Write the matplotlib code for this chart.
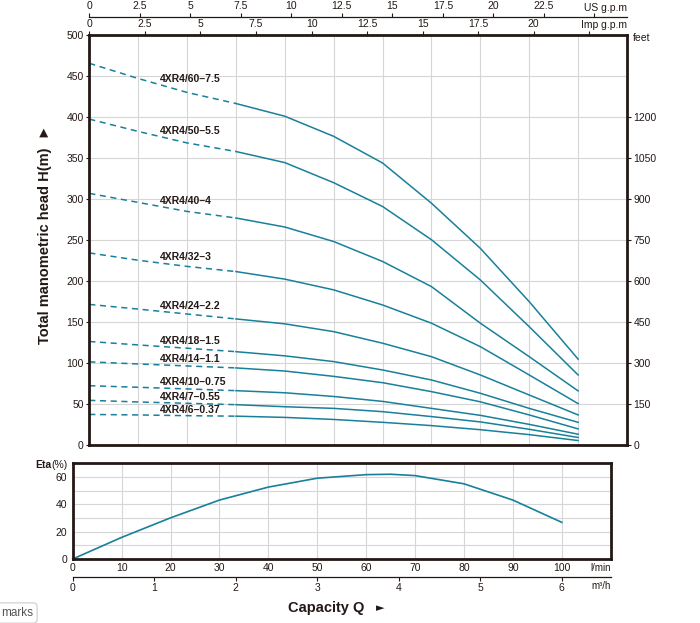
import numpy as np
import matplotlib
matplotlib.use('Agg')
import matplotlib.pyplot as plt

# data
flow = [0, 10, 20, 30, 40, 50, 60, 70, 80, 90, 100]  # l/min

models = ['4XR4/60–7.5', '4XR4/50–5.5', '4XR4/40–4', '4XR4/32–3', '4XR4/24–2.2',
          '4XR4/18–1.5', '4XR4/14–1.1', '4XR4/10–0.75', '4XR4/7–0.55', '4XR4/6–0.37']

heads = [
    [465.5, 447, 430, 416.5, 401, 376.5, 344, 295, 240, 175, 105],
    [397.5, 382.5, 368.5, 358, 344.5, 320, 291, 250.5, 201.5, 144.5, 85.7],
    [307, 296, 285, 277, 266, 248.3, 224, 193.4, 148.8, 108, 66.3],
    [234.4, 225.5, 218, 211.7, 202.5, 189.4, 171, 148.8, 120.2, 85.7, 50.8],
    [171.7, 166, 160, 154, 148, 138.5, 124.4, 108, 85.7, 61.3, 37],
    [126.5, 122.3, 118.3, 114.1, 109, 102, 91.8, 79.6, 63.4, 45, 28],
    [101.7, 99.1, 96.7, 94.3, 90.5, 84, 76.3, 65.4, 53, 37, 20],
    [72.6, 70.7, 68.7, 66.6, 64, 59.5, 53.5, 45, 36.5, 25.5, 13.5],
    [54.8, 52.8, 51.2, 49.5, 47, 45, 41, 35, 28.5, 19.5, 9.5],
    [37.6, 37, 36.1, 35.5, 34, 31.5, 28, 24, 19, 13, 5.8],
]

eta_flow = [0, 10, 20, 30, 40, 50, 60, 65, 70, 80, 90, 100]
eta = [0, 15.8, 30.1, 43.1, 52.6, 59.1, 61.7, 62.0, 61.0, 55.0, 43.1, 26.8]

us_ticks = [0, 2.5, 5, 7.5, 10, 12.5, 15, 17.5, 20, 22.5, 25]
imp_ticks = [0, 2.5, 5, 7.5, 10, 12.5, 15, 17.5, 20, 22.5]
feet_ticks = [0, 150, 300, 450, 600, 750, 900, 1050, 1200]
m3h_ticks = [0, 1, 2, 3, 4, 5, 6]

# scale factors as drawn on the chart
US_LPM = 4.133
IMP_LPM = 4.546
FT_PER_M = 3.0

TEAL = '#18809a'
DARK = '#231815'
GRID = '#d6d6d6'
FONT = ['Liberation Sans Narrow', 'Liberation Sans', 'DejaVu Sans']
plt.rcParams['font.family'] = FONT
plt.rcParams['text.color'] = DARK
plt.rcParams['xtick.color'] = DARK
plt.rcParams['ytick.color'] = DARK

fig = plt.figure(figsize=(7, 6.23), dpi=100)

# --- head curves ---
ax = fig.add_axes([89.3 / 700, 1 - 445.3 / 623, 537.7 / 700, 410.3 / 623])
ax.set_xlim(0, 110)
ax.set_ylim(0, 500)
ax.set_xticks(np.arange(0, 111, 10))
ax.set_yticks(np.arange(0, 501, 50))
ax.grid(True, color=GRID, linewidth=0.8)
ax.set_axisbelow(True)
ax.tick_params(axis='x', length=0, labelbottom=False)
ax.tick_params(axis='y', length=2, pad=2, labelsize=7.5, width=0.8)
for s in ax.spines.values():
    s.set_linewidth(2)
    s.set_color(DARK)

q = np.array(flow)
for name, h in zip(models, heads):
    h = np.array(h)
    # dashed at low flow, solid from 30 l/min on
    ax.plot(q[q <= 30], h[q <= 30], color=TEAL, lw=1.1, ls=(0, (4, 3)))
    ax.plot(q[q >= 30], h[q >= 30], color=TEAL, lw=1.1)
    ax.annotate(name, xy=(14.5, np.interp(14.5, q, h)), xytext=(0, 0.5),
                textcoords='offset points', ha='left', va='bottom',
                fontsize=7.5, fontweight='bold', family=['Liberation Sans', 'DejaVu Sans'])

# top axes: Imp g.p.m on the frame, US g.p.m a bit above
imp = ax.secondary_xaxis('top', functions=(lambda x: x / IMP_LPM, lambda g: g * IMP_LPM))
imp.set_xticks(imp_ticks)
imp.set_xticklabels([f'{t:g}' for t in imp_ticks[:-1]] + [''])
imp.tick_params(length=3, width=0.8, pad=1.5, labelsize=7.5)
imp.spines['top'].set_visible(False)
ax.annotate('Imp g.p.m', xy=(1.0, 1.0), xycoords='axes fraction', xytext=(0, 3.3),
            textcoords='offset points', ha='right', va='bottom', fontsize=7.5)

us = ax.secondary_xaxis(1.043, functions=(lambda x: x / US_LPM, lambda g: g * US_LPM))
us.set_xticks(us_ticks)
us.set_xticklabels([f'{t:g}' for t in us_ticks[:-1]] + [''])
us.tick_params(length=3, width=0.8, pad=1.5, labelsize=7.5)
us.spines['top'].set_linewidth(0.9)
us.spines['top'].set_color(DARK)
ax.annotate('US g.p.m', xy=(1.0, 1.043), xycoords='axes fraction', xytext=(0, 3.3),
            textcoords='offset points', ha='right', va='bottom', fontsize=7.5)

# feet on the right
ft = ax.secondary_yaxis('right', functions=(lambda m: m * FT_PER_M, lambda f: f / FT_PER_M))
ft.set_yticks(feet_ticks)
ft.tick_params(length=3, width=0.8, pad=1.5, labelsize=7.5)
ft.spines['right'].set_visible(False)
fig.text(633 / 700, 1 - 38 / 623, 'feet', fontsize=7.5, ha='left', va='center')

fig.text(44.7 / 700, 1 - 234 / 623, 'Total manometric head H(m)  ►', rotation=90,
         ha='center', va='center', fontsize=10.5, fontweight='bold',
         family=['Liberation Sans', 'DejaVu Sans'])

# --- efficiency ---
low = fig.add_axes([72.7 / 700, 1 - 559 / 623, 538 / 700, 95.7 / 623])
low.set_xlim(0, 110)
low.set_ylim(0, 70)
low.set_xticks(np.arange(0, 111, 10))
low.set_xticklabels([str(v) for v in range(0, 101, 10)] + [''])
low.set_yticks(np.arange(0, 71, 10))
low.set_yticklabels(['0', '', '20', '', '40', '', '60', ''])
low.grid(True, color=GRID, linewidth=0.8)
low.set_axisbelow(True)
low.tick_params(length=0, labelsize=7.5)
low.tick_params(axis='x', pad=3)
low.tick_params(axis='y', pad=4)
for s in low.spines.values():
    s.set_linewidth(2)
    s.set_color(DARK)
low.plot(eta_flow, eta, color=TEAL, lw=1.2, clip_on=False)
low.annotate('l/min', xy=(1.0, 0), xycoords='axes fraction', xytext=(0, -3),
             textcoords='offset points', ha='right', va='top', fontsize=7)

m3 = low.secondary_xaxis(-0.185, functions=(lambda x: x * 0.06, lambda m: m / 0.06))
m3.set_xticks(m3h_ticks)
m3.tick_params(length=3, width=0.8, pad=1.5, labelsize=7.5)
m3.spines['bottom'].set_linewidth(0.9)
m3.spines['bottom'].set_color(DARK)
low.annotate('m³/h', xy=(1.0, -0.185), xycoords='axes fraction', xytext=(0, -3.3),
             textcoords='offset points', ha='right', va='top', fontsize=7)

fig.text(51 / 700, 1 - 464.7 / 623, 'Eta', fontsize=7.5, fontweight='bold',
         ha='right', va='center', family=['Liberation Sans', 'DejaVu Sans'])
fig.text(51.5 / 700, 1 - 464.7 / 623, '(%)', fontsize=7.5, ha='left', va='center')

fig.text(326 / 700, 1 - 608 / 623, 'Capacity Q', fontsize=10.5, fontweight='bold',
         ha='center', va='center', family=['Liberation Sans', 'DejaVu Sans'])
fig.text(380 / 700, 1 - 608 / 623, '►', fontsize=8, ha='center', va='center',
         family=['DejaVu Sans'])

# leftover page button in the corner of the screenshot
fig.text(1 / 700, 1 - 613 / 623, 'marks', fontsize=8.5, color='#555555',
         ha='left', va='center', family=['Liberation Sans', 'DejaVu Sans'],
         bbox=dict(boxstyle='round,pad=0.35', fc='white', ec='#cccccc', lw=0.8))

fig.savefig('out.png', dpi=100)
